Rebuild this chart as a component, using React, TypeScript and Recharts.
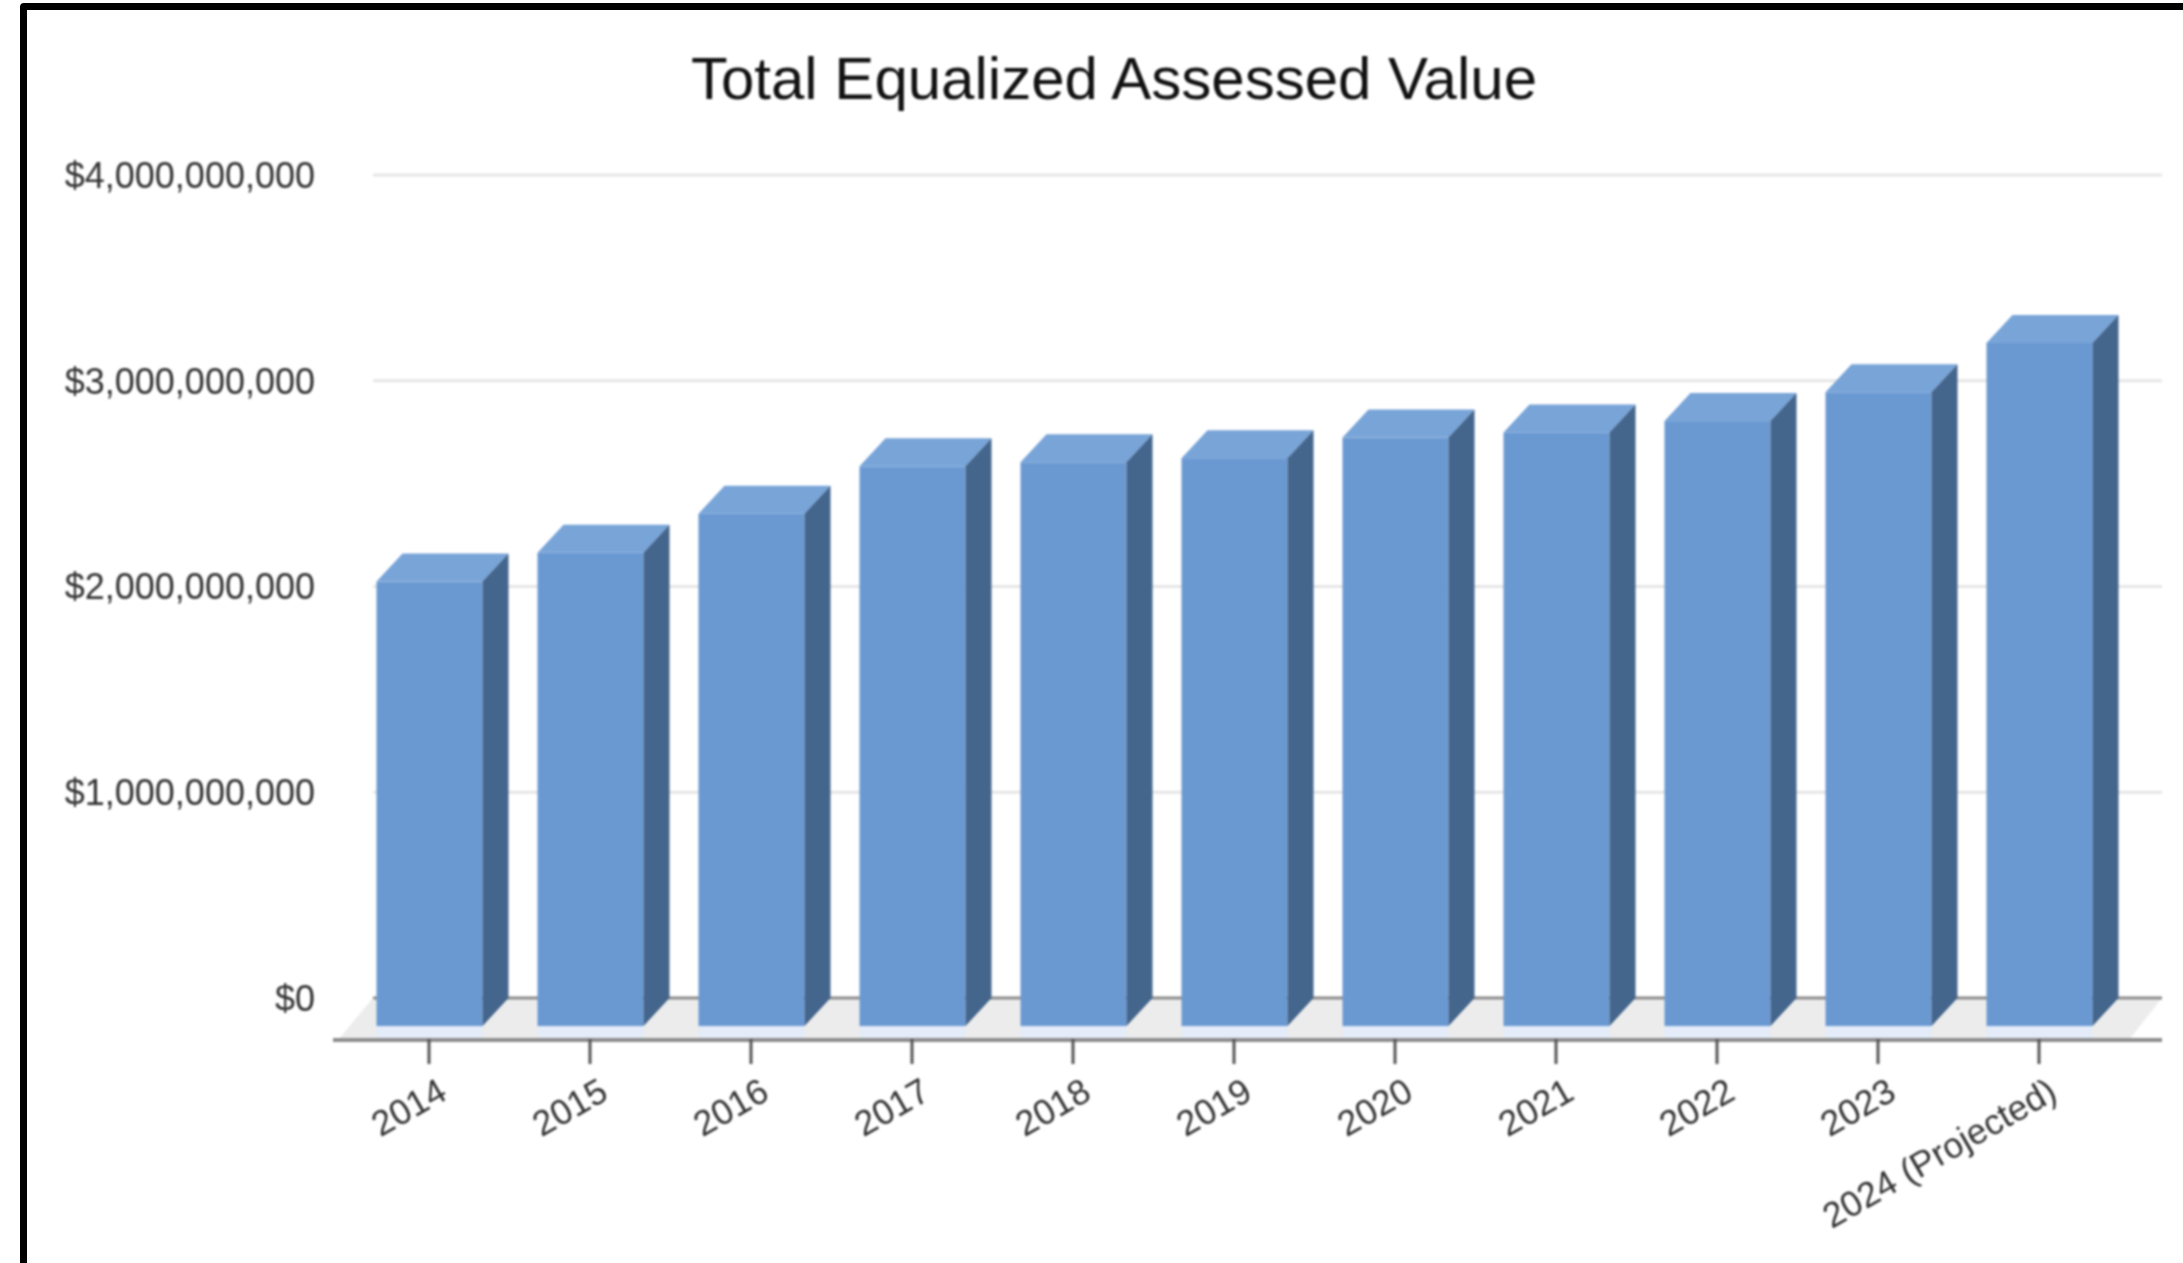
import { BarChart, Bar, XAxis, YAxis, CartesianGrid, ReferenceArea } from "recharts";

const years = ["2014", "2015", "2016", "2017", "2018", "2019", "2020", "2021", "2022", "2023", "2024 (Projected)"];
const values = [2160000000, 2300000000, 2490000000, 2720000000, 2740000000, 2760000000, 2860000000, 2885000000, 2940000000, 3080000000, 3320000000];
const yTicks = [0, 1000000000, 2000000000, 3000000000, 4000000000];

const data = years.map((year, i) => ({ year, value: values[i] }));

const money = (v: number) => "$" + v.toLocaleString("en-US");

// depth of the fake 3d box, in px
const DX = 26;
const DY = 28;

function Bar3D(props: any) {
  const { x, y, width, height } = props;
  const fy = y + DY;
  const r = x + width;
  const b = fy + height;
  return (
    <g>
      <rect x={x} y={b} width={width} height={13} fill="#e3ecf8" />
      <rect x={x} y={fy} width={width} height={height} fill="#6a99d2" />
      <polygon points={`${x},${fy} ${x + DX},${y} ${r + DX},${y} ${r},${fy}`} fill="#78a4d8" />
      <polygon points={`${r},${fy} ${r + DX},${y} ${r + DX},${b - DY} ${r},${b}`} fill="#44658c" />
    </g>
  );
}

// the area only spans the band range, so the wall and front edges are offset from it
function Floor(props: any) {
  const { x, y, width, height } = props;
  const backL = x + 24.5;
  const backR = x + width + 42.5;
  return (
    <g>
      <polygon
        points={`${backL},${y} ${backR},${y} ${x + width + 10},${y + height} ${x - 10},${y + height}`}
        fill="#ececec"
      />
      <line x1={backL} x2={backR} y1={y} y2={y} stroke="#8d8d8d" strokeWidth={3} />
    </g>
  );
}

function GridLine(props: any) {
  return <line key={props.y1} x1={props.x1 + 40} x2={props.x2} y1={props.y1} y2={props.y2} stroke="#e6e6e6" strokeWidth={3} />;
}

function YearTick(props: any) {
  const { x, y, payload } = props;
  return (
    <g>
      <line x1={x} x2={x} y1={y - 9} y2={y + 16} stroke="#555" strokeWidth={3} />
      <text
        transform={`translate(${x + 20},${y + 50}) rotate(-30)`}
        textAnchor="end"
        fontFamily="Liberation Sans"
        fontSize={35.5}
        fill="#333"
      >
        {payload.value}
      </text>
    </g>
  );
}

export default function App() {
  return (
    <div style={{ position: "fixed", left: 0, top: 0, width: 2183, height: 1263, overflow: "hidden", background: "#fff" }}>
      <div
        style={{
          position: "absolute",
          left: 20,
          top: 3,
          width: 2400,
          height: 1500,
          border: "7px solid #000",
          borderRadius: 4,
        }}
      />
      <div style={{ position: "absolute", left: 0, top: 0, filter: "blur(1px)" }}>
        <div
          style={{
            position: "absolute",
            left: 0,
            width: 2228,
            top: 45,
            textAlign: "center",
            fontFamily: "Liberation Sans",
            fontSize: 60,
            lineHeight: "68px",
            color: "#111",
          }}
        >
          Total Equalized Assessed Value
        </div>
        <BarChart
          width={2183}
          height={1263}
          data={data}
          barSize={106}
          margin={{ top: 175, right: 21, bottom: 0, left: 0 }}
        >
          <CartesianGrid vertical={false} horizontal={GridLine} />
          <XAxis
            dataKey="year"
            height={223}
            interval={0}
            padding={{ left: 15.5, right: 42.5 }}
            axisLine={{ stroke: "#8d8d8d", strokeWidth: 4 }}
            tickLine={false}
            tick={YearTick}
          />
          <YAxis
            width={333}
            domain={[-204000000, 4000000000]}
            ticks={yTicks}
            tickFormatter={money}
            axisLine={false}
            tickLine={false}
            tickSize={0}
            tickMargin={18}
            tick={{ fontFamily: "Liberation Sans", fontSize: 36, fill: "#333" }}
          />
          <ReferenceArea y1={0} y2={-200000000} shape={Floor} />
          <Bar dataKey="value" shape={Bar3D} isAnimationActive={false} />
        </BarChart>
      </div>
    </div>
  );
}
